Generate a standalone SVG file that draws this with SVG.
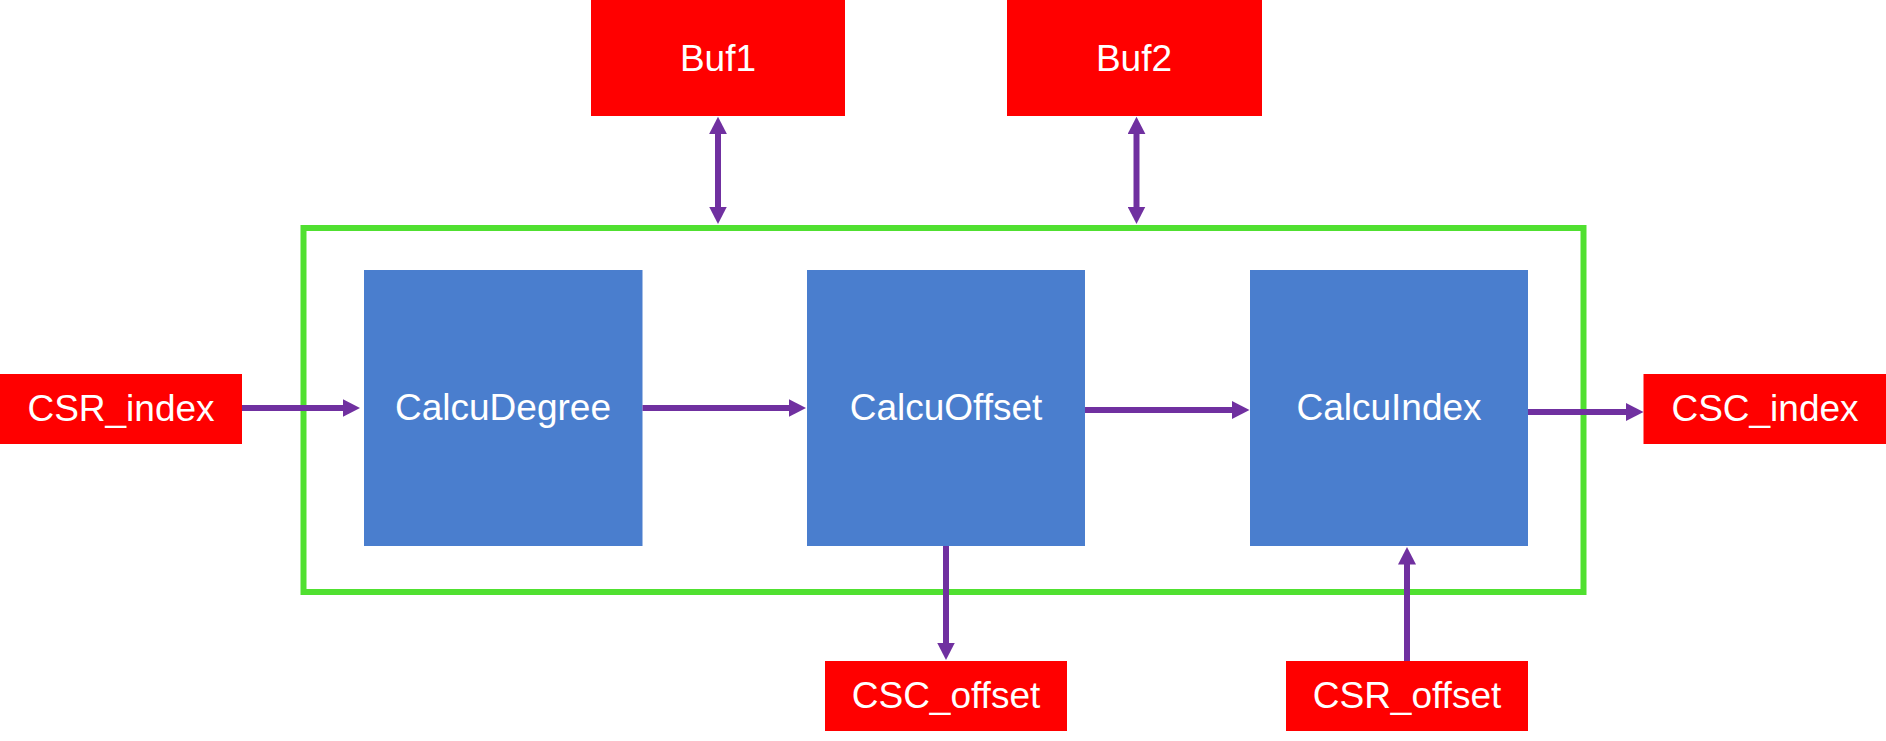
<svg xmlns="http://www.w3.org/2000/svg" width="1886" height="741" viewBox="0 0 1886 741">
  <style>
    .red { fill: #FF0000; }
    .blue { fill: #4A7ECE; }
    .lbl { font-family: "Liberation Sans", Arial, sans-serif; font-size: 37px; fill: #FFFFFF; text-anchor: middle; }
    .conn { stroke: #7030A0; stroke-width: 6; fill: none; }
  </style>
  <defs>
    <marker id="ah" markerUnits="userSpaceOnUse" markerWidth="18" markerHeight="18" refX="7.5" refY="9" orient="auto-start-reverse">
      <path d="M0,0 L17.5,9 L0,18 z" fill="#7030A0"/>
    </marker>
  </defs>
  <rect width="1886" height="741" fill="#FFFFFF"/>

  <g id="container">
    <rect x="303.5" y="228" width="1280" height="364" fill="none" stroke="#50E030" stroke-width="6"/>
  </g>

  <g id="buf1">
    <rect class="red" x="591" y="0" width="254" height="116"/>
    <text class="lbl" x="718" y="71">Buf1</text>
  </g>
  <g id="buf2">
    <rect class="red" x="1007" y="0" width="255" height="116"/>
    <text class="lbl" x="1134" y="71">Buf2</text>
  </g>
  <g id="csr_index">
    <rect class="red" x="0" y="374" width="242" height="70"/>
    <text class="lbl" x="121" y="421">CSR_index</text>
  </g>
  <g id="csc_index">
    <rect class="red" x="1643.5" y="374" width="242.5" height="70"/>
    <text class="lbl" x="1765" y="421">CSC_index</text>
  </g>
  <g id="csc_offset">
    <rect class="red" x="825" y="661" width="242" height="70"/>
    <text class="lbl" x="946" y="708">CSC_offset</text>
  </g>
  <g id="csr_offset">
    <rect class="red" x="1286" y="661" width="242" height="70"/>
    <text class="lbl" x="1407" y="708">CSR_offset</text>
  </g>
  <g id="calcudegree">
    <rect class="blue" x="364" y="270" width="278.5" height="276"/>
    <text class="lbl" x="503" y="420">CalcuDegree</text>
  </g>
  <g id="calcuoffset">
    <rect class="blue" x="807" y="270" width="278" height="276"/>
    <text class="lbl" x="946" y="420">CalcuOffset</text>
  </g>
  <g id="calcuindex">
    <rect class="blue" x="1250" y="270" width="278" height="276"/>
    <text class="lbl" x="1389" y="420">CalcuIndex</text>
  </g>

  <g id="connectors">
    <line class="conn" x1="718" y1="126.7" x2="718" y2="214" marker-start="url(#ah)" marker-end="url(#ah)"/>
    <line class="conn" x1="1136.5" y1="126.7" x2="1136.5" y2="214" marker-start="url(#ah)" marker-end="url(#ah)"/>
    <line class="conn" x1="242" y1="408" x2="350" y2="408" marker-end="url(#ah)"/>
    <line class="conn" x1="642.5" y1="408" x2="796" y2="408" marker-end="url(#ah)"/>
    <line class="conn" x1="1085" y1="410" x2="1239.5" y2="410" marker-end="url(#ah)"/>
    <line class="conn" x1="1528" y1="412" x2="1633.5" y2="412" marker-end="url(#ah)"/>
    <line class="conn" x1="946" y1="546" x2="946" y2="650" marker-end="url(#ah)"/>
    <line class="conn" x1="1407" y1="661" x2="1407" y2="557" marker-end="url(#ah)"/>
  </g>
</svg>
